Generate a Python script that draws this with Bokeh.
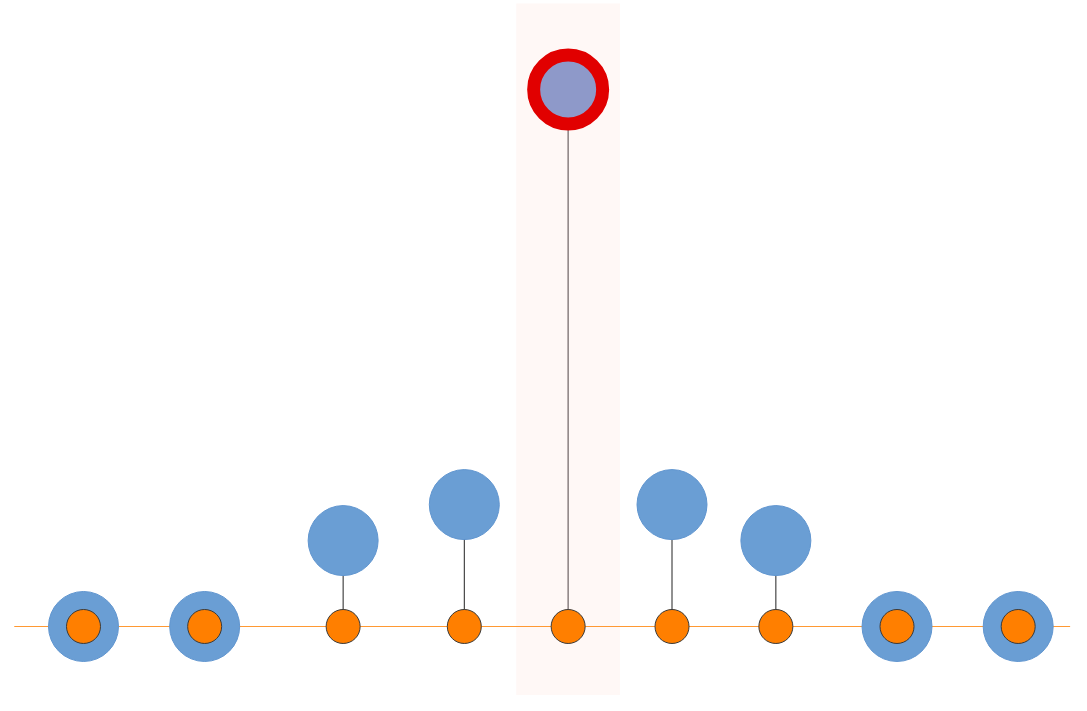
from bokeh.plotting import figure
from bokeh.models import BoxAnnotation, Range1d
from bokeh.embed import file_html
from bokeh.resources import INLINE

# data
x_pos = [0, 7, 15, 22, 28, 34, 40, 47, 54]
values = [0, 0, 16, 22.7, 100, 22.7, 16, 0, 0]
highlight_index = 4
band_half = 3
band_top = 116.0
line_start, line_end = -4, 57

p = figure(width=1071, height=695, output_backend="svg", toolbar_location=None,
           x_range=Range1d(-4.795, 57.08), y_range=Range1d(-12.85, 116.57),
           min_border=0, outline_line_color=None)
p.axis.visible = False
p.grid.visible = False
p.background_fill_color = "white"

hx = x_pos[highlight_index]
p.add_layout(BoxAnnotation(left=hx - band_half, right=hx + band_half, top=band_top,
                           fill_color="#fff8f6", fill_alpha=1.0, line_color=None, level="underlay"))

p.line([line_start, line_end], [0, 0], line_color="#ff9933", line_width=1.2)

others = [i for i in range(len(x_pos)) if i != highlight_index]
ox = [x_pos[i] for i in others]
oy = [values[i] for i in others]

p.segment(x0=ox, y0=[0] * len(ox), x1=ox, y1=oy, line_color="#222222", line_width=1)
p.segment(x0=[hx], y0=[0], x1=[hx], y1=[values[highlight_index]], line_color="#8a7f80", line_width=1.5)

p.scatter(ox, oy, size=70, fill_color="#6a9ed4", line_color="#6196d0", line_width=1)
p.scatter([hx], [values[highlight_index]], size=69, fill_color="#8e99c9",
          line_color="#e10000", line_width=13)

p.scatter(x_pos, [0] * len(x_pos), size=34, fill_color="#ff7f00", line_color="#3a3a3a", line_width=1)

open("out.html", "w").write(file_html(p, INLINE))
